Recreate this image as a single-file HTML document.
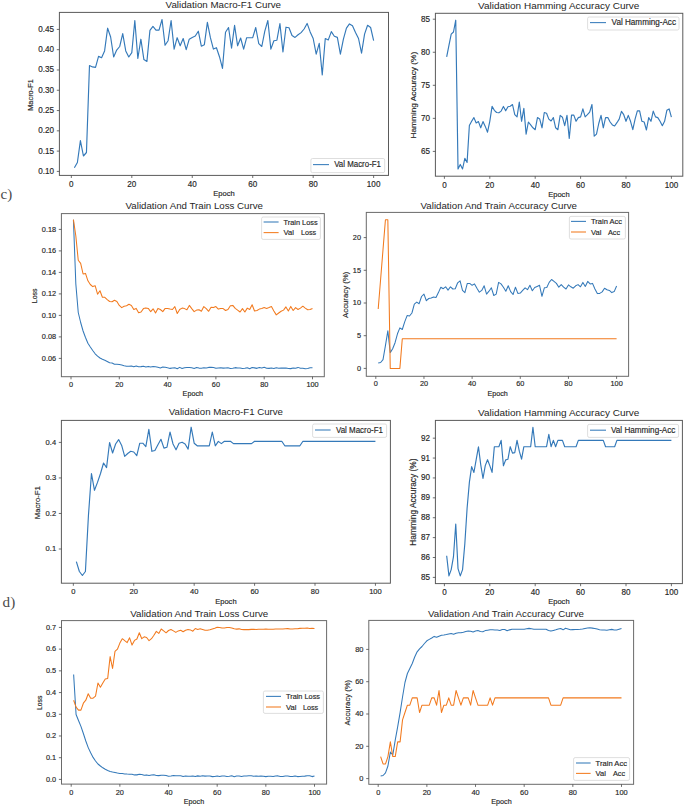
<!DOCTYPE html>
<html><head><meta charset="utf-8"><style>
html,body{margin:0;padding:0;background:#fff;}
svg{display:block;}
text{font-family:"Liberation Sans", sans-serif;}
text.tk{stroke:#262626; stroke-width:0.16px; paint-order:stroke;}
</style></head><body>
<svg width="685" height="807" viewBox="0 0 685 807">
<rect x="0" y="0" width="685" height="807" fill="#ffffff"/>
<polyline points="74.36,167.70 77.39,162.50 80.41,140.60 83.43,156.00 86.45,152.50 89.48,65.50 92.50,66.90 95.52,67.40 98.55,56.40 101.57,57.70 104.59,50.90 107.62,28.20 110.64,37.00 113.66,57.00 116.69,50.10 119.71,46.50 122.73,33.60 125.75,50.90 128.78,57.00 131.80,52.60 134.82,20.50 137.85,58.50 140.87,39.20 143.89,59.60 146.92,61.40 149.94,30.40 152.96,26.40 155.98,30.10 159.01,30.10 162.03,19.50 165.05,45.30 168.08,40.70 171.10,20.50 174.12,49.10 177.15,37.70 180.17,45.80 183.19,38.50 186.21,49.60 189.24,39.20 192.26,37.40 195.28,36.00 198.31,31.20 201.33,46.20 204.35,44.70 207.38,22.40 210.40,37.70 213.42,49.10 216.44,47.70 219.47,56.70 222.49,68.40 225.51,32.20 228.54,27.50 231.56,48.20 234.58,25.30 237.61,45.80 240.63,38.00 243.65,49.10 246.67,37.70 249.70,37.70 252.72,37.70 255.74,27.50 258.77,43.60 261.79,46.50 264.81,31.20 267.84,20.50 270.86,49.10 273.88,40.70 276.90,40.20 279.93,23.60 282.95,52.00 285.97,27.20 289.00,27.80 292.02,35.50 295.04,37.40 298.07,34.80 301.09,32.60 304.11,29.00 307.13,23.40 310.16,31.90 313.18,38.50 316.20,54.10 319.23,43.30 322.25,75.00 325.27,38.50 328.29,39.90 331.32,31.60 334.34,36.30 337.36,37.40 340.39,54.10 343.41,39.20 346.43,28.20 349.46,23.90 352.48,25.80 355.50,32.60 358.52,38.50 361.55,53.10 364.57,34.10 367.59,25.30 370.62,27.50 373.64,40.70" fill="none" stroke="#3479b9" stroke-width="1.15" stroke-linejoin="round" stroke-linecap="butt"/>
<rect x="59.40" y="12.40" width="329.10" height="163.00" fill="none" stroke="#5a5a5a" stroke-width="1.00"/>
<line x1="71.34" y1="175.40" x2="71.34" y2="178.00" stroke="#4a4a4a" stroke-width="0.80"/>
<text class="tk" x="71.34" y="186.60" font-size="8.38" text-anchor="middle" textLength="4.52" lengthAdjust="spacingAndGlyphs" fill="#262626" xml:space="preserve" style='font-family:"Liberation Sans", sans-serif;'>0</text>
<line x1="131.80" y1="175.40" x2="131.80" y2="178.00" stroke="#4a4a4a" stroke-width="0.80"/>
<text class="tk" x="131.80" y="186.60" font-size="8.38" text-anchor="middle" textLength="9.03" lengthAdjust="spacingAndGlyphs" fill="#262626" xml:space="preserve" style='font-family:"Liberation Sans", sans-serif;'>20</text>
<line x1="192.26" y1="175.40" x2="192.26" y2="178.00" stroke="#4a4a4a" stroke-width="0.80"/>
<text class="tk" x="192.26" y="186.60" font-size="8.38" text-anchor="middle" textLength="9.03" lengthAdjust="spacingAndGlyphs" fill="#262626" xml:space="preserve" style='font-family:"Liberation Sans", sans-serif;'>40</text>
<line x1="252.72" y1="175.40" x2="252.72" y2="178.00" stroke="#4a4a4a" stroke-width="0.80"/>
<text class="tk" x="252.72" y="186.60" font-size="8.38" text-anchor="middle" textLength="9.03" lengthAdjust="spacingAndGlyphs" fill="#262626" xml:space="preserve" style='font-family:"Liberation Sans", sans-serif;'>60</text>
<line x1="313.18" y1="175.40" x2="313.18" y2="178.00" stroke="#4a4a4a" stroke-width="0.80"/>
<text class="tk" x="313.18" y="186.60" font-size="8.38" text-anchor="middle" textLength="9.03" lengthAdjust="spacingAndGlyphs" fill="#262626" xml:space="preserve" style='font-family:"Liberation Sans", sans-serif;'>80</text>
<line x1="373.64" y1="175.40" x2="373.64" y2="178.00" stroke="#4a4a4a" stroke-width="0.80"/>
<text class="tk" x="373.64" y="186.60" font-size="8.38" text-anchor="middle" textLength="13.55" lengthAdjust="spacingAndGlyphs" fill="#262626" xml:space="preserve" style='font-family:"Liberation Sans", sans-serif;'>100</text>
<line x1="56.80" y1="171.40" x2="59.40" y2="171.40" stroke="#4a4a4a" stroke-width="0.80"/>
<text class="tk" x="54.10" y="173.89" font-size="8.38" text-anchor="end" textLength="15.81" lengthAdjust="spacingAndGlyphs" fill="#262626" xml:space="preserve" style='font-family:"Liberation Sans", sans-serif;'>0.10</text>
<line x1="56.80" y1="151.12" x2="59.40" y2="151.12" stroke="#4a4a4a" stroke-width="0.80"/>
<text class="tk" x="54.10" y="153.60" font-size="8.38" text-anchor="end" textLength="15.81" lengthAdjust="spacingAndGlyphs" fill="#262626" xml:space="preserve" style='font-family:"Liberation Sans", sans-serif;'>0.15</text>
<line x1="56.80" y1="130.83" x2="59.40" y2="130.83" stroke="#4a4a4a" stroke-width="0.80"/>
<text class="tk" x="54.10" y="133.32" font-size="8.38" text-anchor="end" textLength="15.81" lengthAdjust="spacingAndGlyphs" fill="#262626" xml:space="preserve" style='font-family:"Liberation Sans", sans-serif;'>0.20</text>
<line x1="56.80" y1="110.55" x2="59.40" y2="110.55" stroke="#4a4a4a" stroke-width="0.80"/>
<text class="tk" x="54.10" y="113.03" font-size="8.38" text-anchor="end" textLength="15.81" lengthAdjust="spacingAndGlyphs" fill="#262626" xml:space="preserve" style='font-family:"Liberation Sans", sans-serif;'>0.25</text>
<line x1="56.80" y1="90.26" x2="59.40" y2="90.26" stroke="#4a4a4a" stroke-width="0.80"/>
<text class="tk" x="54.10" y="92.75" font-size="8.38" text-anchor="end" textLength="15.81" lengthAdjust="spacingAndGlyphs" fill="#262626" xml:space="preserve" style='font-family:"Liberation Sans", sans-serif;'>0.30</text>
<line x1="56.80" y1="69.98" x2="59.40" y2="69.98" stroke="#4a4a4a" stroke-width="0.80"/>
<text class="tk" x="54.10" y="72.46" font-size="8.38" text-anchor="end" textLength="15.81" lengthAdjust="spacingAndGlyphs" fill="#262626" xml:space="preserve" style='font-family:"Liberation Sans", sans-serif;'>0.35</text>
<line x1="56.80" y1="49.69" x2="59.40" y2="49.69" stroke="#4a4a4a" stroke-width="0.80"/>
<text class="tk" x="54.10" y="52.18" font-size="8.38" text-anchor="end" textLength="15.81" lengthAdjust="spacingAndGlyphs" fill="#262626" xml:space="preserve" style='font-family:"Liberation Sans", sans-serif;'>0.40</text>
<line x1="56.80" y1="29.41" x2="59.40" y2="29.41" stroke="#4a4a4a" stroke-width="0.80"/>
<text class="tk" x="54.10" y="31.89" font-size="8.38" text-anchor="end" textLength="15.81" lengthAdjust="spacingAndGlyphs" fill="#262626" xml:space="preserve" style='font-family:"Liberation Sans", sans-serif;'>0.45</text>
<text class="tk" x="224.00" y="195.80" font-size="7.70" text-anchor="middle" textLength="21.43" lengthAdjust="spacingAndGlyphs" fill="#262626" xml:space="preserve" style='font-family:"Liberation Sans", sans-serif;'>Epoch</text>
<text class="tk" transform="translate(33.30 95.00) rotate(-90)" x="0" y="0" font-size="7.54" text-anchor="middle" textLength="31.63" lengthAdjust="spacingAndGlyphs" fill="#262626" xml:space="preserve">Macro-F1</text>
<text x="165.60" y="8.00" font-size="9.13" text-anchor="start" textLength="115.40" lengthAdjust="spacingAndGlyphs" fill="#262626" xml:space="preserve" style='font-family:"Liberation Sans", sans-serif;'>Validation Macro-F1 Curve</text>
<rect x="310.90" y="158.50" width="73.80" height="14.10" rx="1.6" fill="#ffffff" fill-opacity="0.85" stroke="#d6d6d6" stroke-width="0.8"/>
<line x1="313.00" y1="164.60" x2="329.00" y2="164.60" stroke="#3479b9" stroke-width="1.1" stroke-opacity="0.95"/>
<text class="tk" x="334.20" y="167.25" font-size="8.30" text-anchor="start" textLength="46.80" lengthAdjust="spacingAndGlyphs" fill="#262626" xml:space="preserve" style='font-family:"Liberation Sans", sans-serif;'>Val Macro-F1</text>
<polyline points="446.67,56.90 448.94,45.30 451.21,34.20 453.48,32.00 455.75,20.20 458.02,169.00 460.29,164.40 462.56,169.00 464.83,158.40 467.10,162.40 469.37,125.50 471.64,121.30 473.91,117.60 476.18,123.00 478.45,121.60 480.72,127.80 482.99,121.60 485.26,126.40 487.53,132.20 489.80,121.30 492.07,106.40 494.34,110.30 496.61,112.50 498.88,112.80 501.15,111.10 503.42,106.40 505.69,110.80 507.96,106.70 510.23,106.20 512.50,104.50 514.77,114.70 517.04,116.90 519.31,102.00 521.58,121.30 523.85,108.40 526.12,134.10 528.39,122.00 530.66,124.90 532.93,127.80 535.20,129.70 537.47,117.60 539.74,119.10 542.01,127.80 544.28,112.50 546.55,113.20 548.82,119.10 551.09,121.00 553.36,117.60 555.63,127.80 557.90,129.70 560.17,115.40 562.44,117.20 564.71,125.70 566.98,115.40 569.25,138.50 571.52,115.10 573.79,115.10 576.06,121.30 578.33,117.60 580.60,116.90 582.87,108.90 585.14,116.90 587.41,114.70 589.68,112.20 591.95,104.50 594.22,136.20 596.49,134.10 598.76,123.50 601.03,115.40 603.30,127.80 605.57,117.60 607.84,117.60 610.11,122.00 612.38,124.90 614.65,126.00 616.92,122.70 619.19,119.10 621.46,111.40 623.73,114.70 626.00,121.30 628.27,115.40 630.54,121.30 632.81,129.70 635.08,119.10 637.35,110.80 639.62,110.80 641.89,121.30 644.16,122.00 646.43,130.00 648.70,117.60 650.97,121.30 653.24,111.10 655.51,116.90 657.78,117.60 660.05,121.30 662.32,125.70 664.59,121.30 666.86,110.30 669.13,108.90 671.40,117.20" fill="none" stroke="#3479b9" stroke-width="1.15" stroke-linejoin="round" stroke-linecap="butt"/>
<rect x="435.40" y="13.30" width="247.40" height="162.90" fill="none" stroke="#5a5a5a" stroke-width="1.00"/>
<line x1="444.40" y1="176.20" x2="444.40" y2="178.80" stroke="#4a4a4a" stroke-width="0.80"/>
<text class="tk" x="444.40" y="187.60" font-size="8.38" text-anchor="middle" textLength="4.52" lengthAdjust="spacingAndGlyphs" fill="#262626" xml:space="preserve" style='font-family:"Liberation Sans", sans-serif;'>0</text>
<line x1="489.80" y1="176.20" x2="489.80" y2="178.80" stroke="#4a4a4a" stroke-width="0.80"/>
<text class="tk" x="489.80" y="187.60" font-size="8.38" text-anchor="middle" textLength="9.03" lengthAdjust="spacingAndGlyphs" fill="#262626" xml:space="preserve" style='font-family:"Liberation Sans", sans-serif;'>20</text>
<line x1="535.20" y1="176.20" x2="535.20" y2="178.80" stroke="#4a4a4a" stroke-width="0.80"/>
<text class="tk" x="535.20" y="187.60" font-size="8.38" text-anchor="middle" textLength="9.03" lengthAdjust="spacingAndGlyphs" fill="#262626" xml:space="preserve" style='font-family:"Liberation Sans", sans-serif;'>40</text>
<line x1="580.60" y1="176.20" x2="580.60" y2="178.80" stroke="#4a4a4a" stroke-width="0.80"/>
<text class="tk" x="580.60" y="187.60" font-size="8.38" text-anchor="middle" textLength="9.03" lengthAdjust="spacingAndGlyphs" fill="#262626" xml:space="preserve" style='font-family:"Liberation Sans", sans-serif;'>60</text>
<line x1="626.00" y1="176.20" x2="626.00" y2="178.80" stroke="#4a4a4a" stroke-width="0.80"/>
<text class="tk" x="626.00" y="187.60" font-size="8.38" text-anchor="middle" textLength="9.03" lengthAdjust="spacingAndGlyphs" fill="#262626" xml:space="preserve" style='font-family:"Liberation Sans", sans-serif;'>80</text>
<line x1="671.40" y1="176.20" x2="671.40" y2="178.80" stroke="#4a4a4a" stroke-width="0.80"/>
<text class="tk" x="671.40" y="187.60" font-size="8.38" text-anchor="middle" textLength="13.55" lengthAdjust="spacingAndGlyphs" fill="#262626" xml:space="preserve" style='font-family:"Liberation Sans", sans-serif;'>100</text>
<line x1="432.80" y1="151.40" x2="435.40" y2="151.40" stroke="#4a4a4a" stroke-width="0.80"/>
<text class="tk" x="430.10" y="153.89" font-size="8.38" text-anchor="end" textLength="9.03" lengthAdjust="spacingAndGlyphs" fill="#262626" xml:space="preserve" style='font-family:"Liberation Sans", sans-serif;'>65</text>
<line x1="432.80" y1="118.35" x2="435.40" y2="118.35" stroke="#4a4a4a" stroke-width="0.80"/>
<text class="tk" x="430.10" y="120.84" font-size="8.38" text-anchor="end" textLength="9.03" lengthAdjust="spacingAndGlyphs" fill="#262626" xml:space="preserve" style='font-family:"Liberation Sans", sans-serif;'>70</text>
<line x1="432.80" y1="85.30" x2="435.40" y2="85.30" stroke="#4a4a4a" stroke-width="0.80"/>
<text class="tk" x="430.10" y="87.79" font-size="8.38" text-anchor="end" textLength="9.03" lengthAdjust="spacingAndGlyphs" fill="#262626" xml:space="preserve" style='font-family:"Liberation Sans", sans-serif;'>75</text>
<line x1="432.80" y1="52.25" x2="435.40" y2="52.25" stroke="#4a4a4a" stroke-width="0.80"/>
<text class="tk" x="430.10" y="54.74" font-size="8.38" text-anchor="end" textLength="9.03" lengthAdjust="spacingAndGlyphs" fill="#262626" xml:space="preserve" style='font-family:"Liberation Sans", sans-serif;'>80</text>
<line x1="432.80" y1="19.20" x2="435.40" y2="19.20" stroke="#4a4a4a" stroke-width="0.80"/>
<text class="tk" x="430.10" y="21.69" font-size="8.38" text-anchor="end" textLength="9.03" lengthAdjust="spacingAndGlyphs" fill="#262626" xml:space="preserve" style='font-family:"Liberation Sans", sans-serif;'>85</text>
<text class="tk" x="558.90" y="197.00" font-size="7.70" text-anchor="middle" textLength="21.43" lengthAdjust="spacingAndGlyphs" fill="#262626" xml:space="preserve" style='font-family:"Liberation Sans", sans-serif;'>Epoch</text>
<text class="tk" transform="translate(415.80 95.20) rotate(-90)" x="0" y="0" font-size="8.09" text-anchor="middle" textLength="86.67" lengthAdjust="spacingAndGlyphs" fill="#262626" xml:space="preserve">Hamming Accuracy (%)</text>
<text x="478.00" y="9.00" font-size="9.19" text-anchor="start" textLength="161.40" lengthAdjust="spacingAndGlyphs" fill="#262626" xml:space="preserve" style='font-family:"Liberation Sans", sans-serif;'>Validation Hamming Accuracy Curve</text>
<rect x="587.60" y="17.00" width="91.40" height="13.00" rx="1.6" fill="#ffffff" fill-opacity="0.85" stroke="#d6d6d6" stroke-width="0.8"/>
<line x1="590.00" y1="22.60" x2="606.00" y2="22.60" stroke="#3479b9" stroke-width="1.1" stroke-opacity="0.95"/>
<text class="tk" x="611.60" y="25.28" font-size="8.37" text-anchor="start" textLength="64.40" lengthAdjust="spacingAndGlyphs" fill="#262626" xml:space="preserve" style='font-family:"Liberation Sans", sans-serif;'>Val Hamming-Acc</text>
<polyline points="73.42,219.70 75.83,284.00 78.25,312.50 80.66,322.50 83.08,331.00 85.49,337.50 87.91,343.30 90.32,347.00 92.73,350.50 95.15,353.80 97.56,356.20 99.98,358.00 102.39,359.30 104.81,360.30 107.22,361.50 109.64,362.80 112.06,363.00 114.47,364.20 116.88,364.30 119.30,364.50 121.72,365.00 124.13,365.70 126.55,366.20 128.96,366.15 131.38,365.99 133.79,366.77 136.20,366.04 138.62,366.77 141.03,366.61 143.45,366.26 145.87,366.97 148.28,366.39 150.69,367.03 153.11,366.60 155.53,366.71 157.94,367.25 160.36,367.90 162.77,366.99 165.19,367.21 167.60,367.86 170.01,368.39 172.43,367.95 174.84,367.78 177.26,368.67 179.68,367.37 182.09,368.50 184.50,367.71 186.92,367.50 189.34,367.46 191.75,367.73 194.17,368.44 196.58,367.55 199.00,368.11 201.41,368.19 203.82,367.82 206.24,368.07 208.66,367.39 211.07,367.38 213.49,367.59 215.90,368.25 218.31,367.90 220.73,367.74 223.15,368.12 225.56,367.93 227.97,367.72 230.39,368.41 232.81,368.28 235.22,367.64 237.63,368.10 240.05,368.04 242.47,368.53 244.88,368.32 247.30,367.70 249.71,368.67 252.12,367.47 254.54,367.89 256.96,368.36 259.37,367.51 261.78,367.98 264.20,367.35 266.62,368.24 269.03,368.37 271.44,368.10 273.86,368.53 276.27,367.74 278.69,368.27 281.11,368.13 283.52,368.11 285.94,367.94 288.35,368.48 290.76,368.62 293.18,367.96 295.60,368.23 298.01,367.38 300.43,368.28 302.84,368.21 305.25,368.69 307.67,368.45 310.09,367.70 312.50,367.84" fill="none" stroke="#3479b9" stroke-width="1.05" stroke-linejoin="round" stroke-linecap="butt"/>
<polyline points="73.42,219.70 75.83,236.00 78.25,260.30 80.66,263.40 83.08,274.00 85.49,273.40 87.91,280.80 90.32,284.50 92.73,286.60 95.15,285.70 97.56,294.20 99.98,290.80 102.39,297.30 104.81,297.30 107.22,299.60 109.64,301.50 112.06,301.80 114.47,300.30 116.88,301.40 119.30,305.40 121.72,307.60 124.13,306.20 126.55,305.70 128.96,304.30 131.38,305.40 133.79,309.50 136.20,308.40 138.62,312.70 141.03,312.00 143.45,308.60 145.87,307.90 148.28,308.40 150.69,311.70 153.11,308.80 155.53,313.00 157.94,308.40 160.36,309.50 162.77,311.60 165.19,308.40 167.60,308.40 170.01,309.10 172.43,309.50 174.84,306.60 177.26,313.50 179.68,309.50 182.09,308.10 184.50,308.60 186.92,309.80 189.34,305.40 191.75,308.60 194.17,311.60 196.58,310.10 199.00,309.80 201.41,311.30 203.82,306.60 206.24,308.60 208.66,311.30 211.07,307.20 213.49,307.60 215.90,306.60 218.31,309.10 220.73,308.40 223.15,308.60 225.56,310.50 227.97,309.50 230.39,305.70 232.81,305.40 235.22,308.40 237.63,310.10 240.05,312.00 242.47,308.60 244.88,312.00 247.30,308.10 249.71,309.50 252.12,304.70 254.54,311.00 256.96,310.50 259.37,309.10 261.78,308.60 264.20,307.60 266.62,308.40 269.03,307.60 271.44,306.60 273.86,311.00 276.27,314.90 278.69,313.00 281.11,311.30 283.52,310.10 285.94,306.90 288.35,311.00 290.76,306.40 293.18,310.50 295.60,307.60 298.01,309.50 300.43,308.10 302.84,306.20 305.25,308.10 307.67,309.80 310.09,309.50 312.50,308.40" fill="none" stroke="#f27a1e" stroke-width="1.05" stroke-linejoin="round" stroke-linecap="butt"/>
<rect x="61.40" y="213.60" width="262.90" height="163.10" fill="none" stroke="#6a6a6a" stroke-width="1.00"/>
<line x1="71.00" y1="376.70" x2="71.00" y2="379.30" stroke="#4a4a4a" stroke-width="0.80"/>
<text class="tk" x="71.00" y="386.70" font-size="7.55" text-anchor="middle" textLength="4.07" lengthAdjust="spacingAndGlyphs" fill="#262626" xml:space="preserve" style='font-family:"Liberation Sans", sans-serif;'>0</text>
<line x1="119.30" y1="376.70" x2="119.30" y2="379.30" stroke="#4a4a4a" stroke-width="0.80"/>
<text class="tk" x="119.30" y="386.70" font-size="7.55" text-anchor="middle" textLength="8.14" lengthAdjust="spacingAndGlyphs" fill="#262626" xml:space="preserve" style='font-family:"Liberation Sans", sans-serif;'>20</text>
<line x1="167.60" y1="376.70" x2="167.60" y2="379.30" stroke="#4a4a4a" stroke-width="0.80"/>
<text class="tk" x="167.60" y="386.70" font-size="7.55" text-anchor="middle" textLength="8.14" lengthAdjust="spacingAndGlyphs" fill="#262626" xml:space="preserve" style='font-family:"Liberation Sans", sans-serif;'>40</text>
<line x1="215.90" y1="376.70" x2="215.90" y2="379.30" stroke="#4a4a4a" stroke-width="0.80"/>
<text class="tk" x="215.90" y="386.70" font-size="7.55" text-anchor="middle" textLength="8.14" lengthAdjust="spacingAndGlyphs" fill="#262626" xml:space="preserve" style='font-family:"Liberation Sans", sans-serif;'>60</text>
<line x1="264.20" y1="376.70" x2="264.20" y2="379.30" stroke="#4a4a4a" stroke-width="0.80"/>
<text class="tk" x="264.20" y="386.70" font-size="7.55" text-anchor="middle" textLength="8.14" lengthAdjust="spacingAndGlyphs" fill="#262626" xml:space="preserve" style='font-family:"Liberation Sans", sans-serif;'>80</text>
<line x1="312.50" y1="376.70" x2="312.50" y2="379.30" stroke="#4a4a4a" stroke-width="0.80"/>
<text class="tk" x="312.50" y="386.70" font-size="7.55" text-anchor="middle" textLength="12.22" lengthAdjust="spacingAndGlyphs" fill="#262626" xml:space="preserve" style='font-family:"Liberation Sans", sans-serif;'>100</text>
<line x1="58.80" y1="358.40" x2="61.40" y2="358.40" stroke="#4a4a4a" stroke-width="0.80"/>
<text class="tk" x="56.10" y="360.63" font-size="7.55" text-anchor="end" textLength="14.25" lengthAdjust="spacingAndGlyphs" fill="#262626" xml:space="preserve" style='font-family:"Liberation Sans", sans-serif;'>0.06</text>
<line x1="58.80" y1="336.90" x2="61.40" y2="336.90" stroke="#4a4a4a" stroke-width="0.80"/>
<text class="tk" x="56.10" y="339.13" font-size="7.55" text-anchor="end" textLength="14.25" lengthAdjust="spacingAndGlyphs" fill="#262626" xml:space="preserve" style='font-family:"Liberation Sans", sans-serif;'>0.08</text>
<line x1="58.80" y1="315.40" x2="61.40" y2="315.40" stroke="#4a4a4a" stroke-width="0.80"/>
<text class="tk" x="56.10" y="317.63" font-size="7.55" text-anchor="end" textLength="14.25" lengthAdjust="spacingAndGlyphs" fill="#262626" xml:space="preserve" style='font-family:"Liberation Sans", sans-serif;'>0.10</text>
<line x1="58.80" y1="293.90" x2="61.40" y2="293.90" stroke="#4a4a4a" stroke-width="0.80"/>
<text class="tk" x="56.10" y="296.13" font-size="7.55" text-anchor="end" textLength="14.25" lengthAdjust="spacingAndGlyphs" fill="#262626" xml:space="preserve" style='font-family:"Liberation Sans", sans-serif;'>0.12</text>
<line x1="58.80" y1="272.40" x2="61.40" y2="272.40" stroke="#4a4a4a" stroke-width="0.80"/>
<text class="tk" x="56.10" y="274.63" font-size="7.55" text-anchor="end" textLength="14.25" lengthAdjust="spacingAndGlyphs" fill="#262626" xml:space="preserve" style='font-family:"Liberation Sans", sans-serif;'>0.14</text>
<line x1="58.80" y1="250.90" x2="61.40" y2="250.90" stroke="#4a4a4a" stroke-width="0.80"/>
<text class="tk" x="56.10" y="253.13" font-size="7.55" text-anchor="end" textLength="14.25" lengthAdjust="spacingAndGlyphs" fill="#262626" xml:space="preserve" style='font-family:"Liberation Sans", sans-serif;'>0.16</text>
<line x1="58.80" y1="229.40" x2="61.40" y2="229.40" stroke="#4a4a4a" stroke-width="0.80"/>
<text class="tk" x="56.10" y="231.63" font-size="7.55" text-anchor="end" textLength="14.25" lengthAdjust="spacingAndGlyphs" fill="#262626" xml:space="preserve" style='font-family:"Liberation Sans", sans-serif;'>0.18</text>
<text class="tk" x="192.80" y="396.40" font-size="7.33" text-anchor="middle" textLength="20.39" lengthAdjust="spacingAndGlyphs" fill="#262626" xml:space="preserve" style='font-family:"Liberation Sans", sans-serif;'>Epoch</text>
<text class="tk" transform="translate(36.70 295.90) rotate(-90)" x="0" y="0" font-size="7.33" text-anchor="middle" textLength="14.61" lengthAdjust="spacingAndGlyphs" fill="#262626" xml:space="preserve">Loss</text>
<text x="125.60" y="209.00" font-size="9.10" text-anchor="start" textLength="137.40" lengthAdjust="spacingAndGlyphs" fill="#262626" xml:space="preserve" style='font-family:"Liberation Sans", sans-serif;'>Validation And Train Loss Curve</text>
<rect x="261.60" y="217.00" width="58.80" height="22.40" rx="1.6" fill="#ffffff" fill-opacity="0.85" stroke="#d6d6d6" stroke-width="0.8"/>
<line x1="263.60" y1="222.00" x2="278.60" y2="222.00" stroke="#3479b9" stroke-width="1.1" stroke-opacity="0.95"/>
<text class="tk" x="283.60" y="224.52" font-size="7.89" text-anchor="start" textLength="34.00" lengthAdjust="spacingAndGlyphs" fill="#262626" xml:space="preserve" style='font-family:"Liberation Sans", sans-serif;'>Train Loss</text>
<line x1="263.60" y1="232.60" x2="278.60" y2="232.60" stroke="#f27a1e" stroke-width="1.1" stroke-opacity="0.95"/>
<text class="tk" x="283.60" y="235.12" font-size="7.89" text-anchor="start" textLength="10.36" lengthAdjust="spacingAndGlyphs" fill="#262626" xml:space="preserve" style='font-family:"Liberation Sans", sans-serif;'>Val</text>
<text class="tk" x="301.00" y="235.12" font-size="7.89" text-anchor="start" textLength="15.18" lengthAdjust="spacingAndGlyphs" fill="#262626" xml:space="preserve" style='font-family:"Liberation Sans", sans-serif;'>Loss</text>
<polyline points="378.21,363.10 380.62,362.50 383.02,359.60 385.43,345.70 387.84,330.80 390.25,352.60 392.66,348.70 395.06,342.70 397.47,333.80 399.88,327.90 402.29,329.50 404.70,321.90 407.10,315.60 409.51,316.00 411.92,313.00 414.33,304.10 416.74,302.10 419.14,303.70 421.55,296.50 423.96,294.10 426.37,300.70 428.78,298.50 431.18,298.00 433.59,297.00 436.00,297.40 438.41,292.60 440.82,287.20 443.22,288.70 445.63,286.80 448.04,290.10 450.45,286.80 452.86,289.00 455.26,288.70 457.67,282.80 460.08,280.90 462.49,290.40 464.90,292.60 467.30,283.40 469.71,283.40 472.12,285.30 474.53,283.90 476.94,288.20 479.34,292.20 481.75,290.40 484.16,285.80 486.57,294.10 488.98,291.20 491.38,287.80 493.79,295.50 496.20,294.10 498.61,282.40 501.02,283.90 503.42,287.20 505.83,291.20 508.24,285.80 510.65,291.60 513.06,294.50 515.46,287.20 517.87,293.40 520.28,293.10 522.69,290.40 525.10,287.80 527.50,289.70 529.91,285.30 532.32,290.70 534.73,287.50 537.14,286.40 539.54,285.30 541.95,296.30 544.36,287.80 546.77,287.50 549.18,282.40 551.58,279.50 553.99,281.40 556.40,283.40 558.81,287.20 561.22,284.60 563.62,287.20 566.03,289.00 568.44,284.90 570.85,286.80 573.26,288.20 575.66,285.80 578.07,284.60 580.48,286.80 582.89,282.40 585.30,286.40 587.70,281.40 590.11,283.90 592.52,283.40 594.93,289.00 597.34,293.60 599.74,293.40 602.15,291.90 604.56,288.20 606.97,289.70 609.38,290.40 611.78,292.60 614.19,291.60 616.60,286.00" fill="none" stroke="#3479b9" stroke-width="1.05" stroke-linejoin="round" stroke-linecap="butt"/>
<polyline points="378.21,308.95 380.62,279.19 383.02,249.50 385.43,219.75 387.84,219.75 390.25,368.40 392.66,368.40 395.06,368.40 397.47,368.40 399.88,368.40 402.29,338.68 404.70,338.68 407.10,338.68 409.51,338.68 411.92,338.68 414.33,338.68 416.74,338.68 419.14,338.68 421.55,338.68 423.96,338.68 426.37,338.68 428.78,338.68 431.18,338.68 433.59,338.68 436.00,338.68 438.41,338.68 440.82,338.68 443.22,338.68 445.63,338.68 448.04,338.68 450.45,338.68 452.86,338.68 455.26,338.68 457.67,338.68 460.08,338.68 462.49,338.68 464.90,338.68 467.30,338.68 469.71,338.68 472.12,338.68 474.53,338.68 476.94,338.68 479.34,338.68 481.75,338.68 484.16,338.68 486.57,338.68 488.98,338.68 491.38,338.68 493.79,338.68 496.20,338.68 498.61,338.68 501.02,338.68 503.42,338.68 505.83,338.68 508.24,338.68 510.65,338.68 513.06,338.68 515.46,338.68 517.87,338.68 520.28,338.68 522.69,338.68 525.10,338.68 527.50,338.68 529.91,338.68 532.32,338.68 534.73,338.68 537.14,338.68 539.54,338.68 541.95,338.68 544.36,338.68 546.77,338.68 549.18,338.68 551.58,338.68 553.99,338.68 556.40,338.68 558.81,338.68 561.22,338.68 563.62,338.68 566.03,338.68 568.44,338.68 570.85,338.68 573.26,338.68 575.66,338.68 578.07,338.68 580.48,338.68 582.89,338.68 585.30,338.68 587.70,338.68 590.11,338.68 592.52,338.68 594.93,338.68 597.34,338.68 599.74,338.68 602.15,338.68 604.56,338.68 606.97,338.68 609.38,338.68 611.78,338.68 614.19,338.68 616.60,338.68" fill="none" stroke="#f27a1e" stroke-width="1.05" stroke-linejoin="round" stroke-linecap="butt"/>
<rect x="366.30" y="212.40" width="262.30" height="163.90" fill="none" stroke="#6a6a6a" stroke-width="1.00"/>
<line x1="375.80" y1="376.30" x2="375.80" y2="378.90" stroke="#4a4a4a" stroke-width="0.80"/>
<text class="tk" x="375.80" y="385.90" font-size="7.55" text-anchor="middle" textLength="4.07" lengthAdjust="spacingAndGlyphs" fill="#262626" xml:space="preserve" style='font-family:"Liberation Sans", sans-serif;'>0</text>
<line x1="423.96" y1="376.30" x2="423.96" y2="378.90" stroke="#4a4a4a" stroke-width="0.80"/>
<text class="tk" x="423.96" y="385.90" font-size="7.55" text-anchor="middle" textLength="8.14" lengthAdjust="spacingAndGlyphs" fill="#262626" xml:space="preserve" style='font-family:"Liberation Sans", sans-serif;'>20</text>
<line x1="472.12" y1="376.30" x2="472.12" y2="378.90" stroke="#4a4a4a" stroke-width="0.80"/>
<text class="tk" x="472.12" y="385.90" font-size="7.55" text-anchor="middle" textLength="8.14" lengthAdjust="spacingAndGlyphs" fill="#262626" xml:space="preserve" style='font-family:"Liberation Sans", sans-serif;'>40</text>
<line x1="520.28" y1="376.30" x2="520.28" y2="378.90" stroke="#4a4a4a" stroke-width="0.80"/>
<text class="tk" x="520.28" y="385.90" font-size="7.55" text-anchor="middle" textLength="8.14" lengthAdjust="spacingAndGlyphs" fill="#262626" xml:space="preserve" style='font-family:"Liberation Sans", sans-serif;'>60</text>
<line x1="568.44" y1="376.30" x2="568.44" y2="378.90" stroke="#4a4a4a" stroke-width="0.80"/>
<text class="tk" x="568.44" y="385.90" font-size="7.55" text-anchor="middle" textLength="8.14" lengthAdjust="spacingAndGlyphs" fill="#262626" xml:space="preserve" style='font-family:"Liberation Sans", sans-serif;'>80</text>
<line x1="616.60" y1="376.30" x2="616.60" y2="378.90" stroke="#4a4a4a" stroke-width="0.80"/>
<text class="tk" x="616.60" y="385.90" font-size="7.55" text-anchor="middle" textLength="12.22" lengthAdjust="spacingAndGlyphs" fill="#262626" xml:space="preserve" style='font-family:"Liberation Sans", sans-serif;'>100</text>
<line x1="363.70" y1="368.40" x2="366.30" y2="368.40" stroke="#4a4a4a" stroke-width="0.80"/>
<text class="tk" x="361.00" y="370.63" font-size="7.55" text-anchor="end" textLength="4.07" lengthAdjust="spacingAndGlyphs" fill="#262626" xml:space="preserve" style='font-family:"Liberation Sans", sans-serif;'>0</text>
<line x1="363.70" y1="335.70" x2="366.30" y2="335.70" stroke="#4a4a4a" stroke-width="0.80"/>
<text class="tk" x="361.00" y="337.93" font-size="7.55" text-anchor="end" textLength="4.07" lengthAdjust="spacingAndGlyphs" fill="#262626" xml:space="preserve" style='font-family:"Liberation Sans", sans-serif;'>5</text>
<line x1="363.70" y1="303.00" x2="366.30" y2="303.00" stroke="#4a4a4a" stroke-width="0.80"/>
<text class="tk" x="361.00" y="305.23" font-size="7.55" text-anchor="end" textLength="8.14" lengthAdjust="spacingAndGlyphs" fill="#262626" xml:space="preserve" style='font-family:"Liberation Sans", sans-serif;'>10</text>
<line x1="363.70" y1="270.30" x2="366.30" y2="270.30" stroke="#4a4a4a" stroke-width="0.80"/>
<text class="tk" x="361.00" y="272.53" font-size="7.55" text-anchor="end" textLength="8.14" lengthAdjust="spacingAndGlyphs" fill="#262626" xml:space="preserve" style='font-family:"Liberation Sans", sans-serif;'>15</text>
<line x1="363.70" y1="237.60" x2="366.30" y2="237.60" stroke="#4a4a4a" stroke-width="0.80"/>
<text class="tk" x="361.00" y="239.83" font-size="7.55" text-anchor="end" textLength="8.14" lengthAdjust="spacingAndGlyphs" fill="#262626" xml:space="preserve" style='font-family:"Liberation Sans", sans-serif;'>20</text>
<text class="tk" x="497.60" y="395.80" font-size="7.33" text-anchor="middle" textLength="20.39" lengthAdjust="spacingAndGlyphs" fill="#262626" xml:space="preserve" style='font-family:"Liberation Sans", sans-serif;'>Epoch</text>
<text class="tk" transform="translate(347.60 294.80) rotate(-90)" x="0" y="0" font-size="7.70" text-anchor="middle" textLength="46.30" lengthAdjust="spacingAndGlyphs" fill="#262626" xml:space="preserve">Accuracy (%)</text>
<text x="420.60" y="209.00" font-size="9.00" text-anchor="start" textLength="156.40" lengthAdjust="spacingAndGlyphs" fill="#262626" xml:space="preserve" style='font-family:"Liberation Sans", sans-serif;'>Validation And Train Accuracy Curve</text>
<rect x="569.40" y="216.40" width="56.00" height="22.60" rx="1.6" fill="#ffffff" fill-opacity="0.85" stroke="#d6d6d6" stroke-width="0.8"/>
<line x1="571.00" y1="221.40" x2="586.00" y2="221.40" stroke="#3479b9" stroke-width="1.1" stroke-opacity="0.95"/>
<text class="tk" x="591.00" y="223.92" font-size="7.87" text-anchor="start" textLength="31.00" lengthAdjust="spacingAndGlyphs" fill="#262626" xml:space="preserve" style='font-family:"Liberation Sans", sans-serif;'>Train Acc</text>
<line x1="571.00" y1="232.00" x2="586.00" y2="232.00" stroke="#f27a1e" stroke-width="1.1" stroke-opacity="0.95"/>
<text class="tk" x="591.00" y="234.52" font-size="7.87" text-anchor="start" textLength="10.33" lengthAdjust="spacingAndGlyphs" fill="#262626" xml:space="preserve" style='font-family:"Liberation Sans", sans-serif;'>Val</text>
<text class="tk" x="608.00" y="234.52" font-size="7.87" text-anchor="start" textLength="12.19" lengthAdjust="spacingAndGlyphs" fill="#262626" xml:space="preserve" style='font-family:"Liberation Sans", sans-serif;'>Acc</text>
<polyline points="76.35,561.60 79.37,571.50 82.39,575.50 85.41,571.50 88.44,515.50 91.46,473.50 94.48,490.30 97.50,482.40 100.52,473.50 103.54,463.00 106.56,467.60 109.58,442.50 112.60,453.00 115.62,444.00 118.64,439.60 121.67,445.40 124.69,456.40 127.71,453.50 130.73,451.30 133.75,452.00 136.77,455.70 139.79,443.20 142.81,443.20 145.83,446.60 148.85,429.40 151.88,451.30 154.90,450.50 157.92,444.70 160.94,439.30 163.96,448.10 166.98,447.20 170.00,432.00 173.02,444.00 176.04,449.80 179.06,443.20 182.09,442.20 185.11,444.00 188.13,449.10 191.15,427.20 194.17,443.20 197.19,445.80 200.21,445.80 203.23,445.80 206.25,445.80 209.27,445.80 212.30,432.00 215.32,445.80 218.34,441.40 221.36,443.60 224.38,441.30 227.40,441.30 230.42,441.30 233.44,443.60 236.46,443.60 239.49,443.60 242.51,443.60 245.53,443.60 248.55,443.60 251.57,443.60 254.59,441.30 257.61,441.30 260.63,441.30 263.65,441.30 266.67,441.30 269.69,441.30 272.72,441.30 275.74,441.30 278.76,441.30 281.78,441.30 284.80,445.80 287.82,445.80 290.84,445.80 293.86,445.80 296.88,445.80 299.90,445.80 302.93,441.30 305.95,441.30 308.97,441.30 311.99,441.30 315.01,441.30 318.03,441.30 321.05,441.30 324.07,441.30 327.09,441.30 330.11,441.30 333.14,441.30 336.16,441.30 339.18,441.30 342.20,441.30 345.22,441.30 348.24,441.30 351.26,441.30 354.28,441.30 357.30,441.30 360.32,441.30 363.35,441.30 366.37,441.30 369.39,441.30 372.41,441.30 375.43,441.30" fill="none" stroke="#3479b9" stroke-width="1.15" stroke-linejoin="round" stroke-linecap="butt"/>
<rect x="61.40" y="420.40" width="329.00" height="162.80" fill="none" stroke="#5a5a5a" stroke-width="1.00"/>
<line x1="73.33" y1="583.20" x2="73.33" y2="585.80" stroke="#4a4a4a" stroke-width="0.80"/>
<text class="tk" x="73.33" y="594.40" font-size="7.79" text-anchor="middle" textLength="4.20" lengthAdjust="spacingAndGlyphs" fill="#262626" xml:space="preserve" style='font-family:"Liberation Sans", sans-serif;'>0</text>
<line x1="133.75" y1="583.20" x2="133.75" y2="585.80" stroke="#4a4a4a" stroke-width="0.80"/>
<text class="tk" x="133.75" y="594.40" font-size="7.79" text-anchor="middle" textLength="8.40" lengthAdjust="spacingAndGlyphs" fill="#262626" xml:space="preserve" style='font-family:"Liberation Sans", sans-serif;'>20</text>
<line x1="194.17" y1="583.20" x2="194.17" y2="585.80" stroke="#4a4a4a" stroke-width="0.80"/>
<text class="tk" x="194.17" y="594.40" font-size="7.79" text-anchor="middle" textLength="8.40" lengthAdjust="spacingAndGlyphs" fill="#262626" xml:space="preserve" style='font-family:"Liberation Sans", sans-serif;'>40</text>
<line x1="254.59" y1="583.20" x2="254.59" y2="585.80" stroke="#4a4a4a" stroke-width="0.80"/>
<text class="tk" x="254.59" y="594.40" font-size="7.79" text-anchor="middle" textLength="8.40" lengthAdjust="spacingAndGlyphs" fill="#262626" xml:space="preserve" style='font-family:"Liberation Sans", sans-serif;'>60</text>
<line x1="315.01" y1="583.20" x2="315.01" y2="585.80" stroke="#4a4a4a" stroke-width="0.80"/>
<text class="tk" x="315.01" y="594.40" font-size="7.79" text-anchor="middle" textLength="8.40" lengthAdjust="spacingAndGlyphs" fill="#262626" xml:space="preserve" style='font-family:"Liberation Sans", sans-serif;'>80</text>
<line x1="375.43" y1="583.20" x2="375.43" y2="585.80" stroke="#4a4a4a" stroke-width="0.80"/>
<text class="tk" x="375.43" y="594.40" font-size="7.79" text-anchor="middle" textLength="12.60" lengthAdjust="spacingAndGlyphs" fill="#262626" xml:space="preserve" style='font-family:"Liberation Sans", sans-serif;'>100</text>
<line x1="58.80" y1="549.00" x2="61.40" y2="549.00" stroke="#4a4a4a" stroke-width="0.80"/>
<text class="tk" x="56.10" y="551.31" font-size="7.79" text-anchor="end" textLength="10.50" lengthAdjust="spacingAndGlyphs" fill="#262626" xml:space="preserve" style='font-family:"Liberation Sans", sans-serif;'>0.1</text>
<line x1="58.80" y1="513.47" x2="61.40" y2="513.47" stroke="#4a4a4a" stroke-width="0.80"/>
<text class="tk" x="56.10" y="515.78" font-size="7.79" text-anchor="end" textLength="10.50" lengthAdjust="spacingAndGlyphs" fill="#262626" xml:space="preserve" style='font-family:"Liberation Sans", sans-serif;'>0.2</text>
<line x1="58.80" y1="477.94" x2="61.40" y2="477.94" stroke="#4a4a4a" stroke-width="0.80"/>
<text class="tk" x="56.10" y="480.25" font-size="7.79" text-anchor="end" textLength="10.50" lengthAdjust="spacingAndGlyphs" fill="#262626" xml:space="preserve" style='font-family:"Liberation Sans", sans-serif;'>0.3</text>
<line x1="58.80" y1="442.41" x2="61.40" y2="442.41" stroke="#4a4a4a" stroke-width="0.80"/>
<text class="tk" x="56.10" y="444.72" font-size="7.79" text-anchor="end" textLength="10.50" lengthAdjust="spacingAndGlyphs" fill="#262626" xml:space="preserve" style='font-family:"Liberation Sans", sans-serif;'>0.4</text>
<text class="tk" x="225.90" y="604.10" font-size="7.70" text-anchor="middle" textLength="21.43" lengthAdjust="spacingAndGlyphs" fill="#262626" xml:space="preserve" style='font-family:"Liberation Sans", sans-serif;'>Epoch</text>
<text class="tk" transform="translate(40.10 502.70) rotate(-90)" x="0" y="0" font-size="7.92" text-anchor="middle" textLength="33.25" lengthAdjust="spacingAndGlyphs" fill="#262626" xml:space="preserve">Macro-F1</text>
<text x="168.80" y="415.20" font-size="9.04" text-anchor="start" textLength="114.20" lengthAdjust="spacingAndGlyphs" fill="#262626" xml:space="preserve" style='font-family:"Liberation Sans", sans-serif;'>Validation Macro-F1 Curve</text>
<rect x="312.60" y="424.00" width="74.00" height="13.40" rx="1.6" fill="#ffffff" fill-opacity="0.85" stroke="#d6d6d6" stroke-width="0.8"/>
<line x1="315.00" y1="430.00" x2="330.60" y2="430.00" stroke="#3479b9" stroke-width="1.1" stroke-opacity="0.95"/>
<text class="tk" x="336.00" y="432.65" font-size="8.30" text-anchor="start" textLength="47.00" lengthAdjust="spacingAndGlyphs" fill="#262626" xml:space="preserve" style='font-family:"Liberation Sans", sans-serif;'>Val Macro-F1</text>
<polyline points="446.67,555.70 448.94,575.90 451.21,569.60 453.48,556.70 455.75,524.00 458.02,568.60 460.29,575.90 462.56,569.60 464.83,543.80 467.10,508.20 469.37,482.40 471.64,466.60 473.91,472.50 476.18,459.70 478.45,446.80 480.72,464.60 482.99,478.50 485.26,465.60 487.53,459.70 489.80,465.60 492.07,472.40 494.34,446.70 496.61,446.70 498.88,446.70 501.15,440.40 503.42,465.80 505.69,459.90 507.96,459.20 510.23,446.70 512.50,453.10 514.77,452.60 517.04,440.40 519.31,451.20 521.58,459.20 523.85,446.70 526.12,446.70 528.39,446.70 530.66,446.70 532.93,427.30 535.20,446.70 537.47,446.70 539.74,446.70 542.01,446.70 544.28,446.70 546.55,446.70 548.82,434.30 551.09,446.70 553.36,440.40 555.63,446.70 557.90,440.40 560.17,440.40 562.44,440.40 564.71,446.70 566.98,446.70 569.25,446.70 571.52,446.70 573.79,446.70 576.06,446.70 578.33,440.40 580.60,440.40 582.87,440.40 585.14,440.40 587.41,440.40 589.68,440.40 591.95,440.40 594.22,440.40 596.49,440.40 598.76,440.40 601.03,440.40 603.30,440.40 605.57,446.70 607.84,446.70 610.11,446.70 612.38,446.70 614.65,446.70 616.92,440.40 619.19,440.40 621.46,440.40 623.73,440.40 626.00,440.40 628.27,440.40 630.54,440.40 632.81,440.40 635.08,440.40 637.35,440.40 639.62,440.40 641.89,440.40 644.16,440.40 646.43,440.40 648.70,440.40 650.97,440.40 653.24,440.40 655.51,440.40 657.78,440.40 660.05,440.40 662.32,440.40 664.59,440.40 666.86,440.40 669.13,440.40 671.40,440.40" fill="none" stroke="#3479b9" stroke-width="1.15" stroke-linejoin="round" stroke-linecap="butt"/>
<rect x="435.40" y="420.40" width="247.00" height="163.20" fill="none" stroke="#5a5a5a" stroke-width="1.00"/>
<line x1="444.40" y1="583.60" x2="444.40" y2="586.20" stroke="#4a4a4a" stroke-width="0.80"/>
<text class="tk" x="444.40" y="594.70" font-size="8.38" text-anchor="middle" textLength="4.52" lengthAdjust="spacingAndGlyphs" fill="#262626" xml:space="preserve" style='font-family:"Liberation Sans", sans-serif;'>0</text>
<line x1="489.80" y1="583.60" x2="489.80" y2="586.20" stroke="#4a4a4a" stroke-width="0.80"/>
<text class="tk" x="489.80" y="594.70" font-size="8.38" text-anchor="middle" textLength="9.03" lengthAdjust="spacingAndGlyphs" fill="#262626" xml:space="preserve" style='font-family:"Liberation Sans", sans-serif;'>20</text>
<line x1="535.20" y1="583.60" x2="535.20" y2="586.20" stroke="#4a4a4a" stroke-width="0.80"/>
<text class="tk" x="535.20" y="594.70" font-size="8.38" text-anchor="middle" textLength="9.03" lengthAdjust="spacingAndGlyphs" fill="#262626" xml:space="preserve" style='font-family:"Liberation Sans", sans-serif;'>40</text>
<line x1="580.60" y1="583.60" x2="580.60" y2="586.20" stroke="#4a4a4a" stroke-width="0.80"/>
<text class="tk" x="580.60" y="594.70" font-size="8.38" text-anchor="middle" textLength="9.03" lengthAdjust="spacingAndGlyphs" fill="#262626" xml:space="preserve" style='font-family:"Liberation Sans", sans-serif;'>60</text>
<line x1="626.00" y1="583.60" x2="626.00" y2="586.20" stroke="#4a4a4a" stroke-width="0.80"/>
<text class="tk" x="626.00" y="594.70" font-size="8.38" text-anchor="middle" textLength="9.03" lengthAdjust="spacingAndGlyphs" fill="#262626" xml:space="preserve" style='font-family:"Liberation Sans", sans-serif;'>80</text>
<line x1="671.40" y1="583.60" x2="671.40" y2="586.20" stroke="#4a4a4a" stroke-width="0.80"/>
<text class="tk" x="671.40" y="594.70" font-size="8.38" text-anchor="middle" textLength="13.55" lengthAdjust="spacingAndGlyphs" fill="#262626" xml:space="preserve" style='font-family:"Liberation Sans", sans-serif;'>100</text>
<line x1="432.80" y1="577.40" x2="435.40" y2="577.40" stroke="#4a4a4a" stroke-width="0.80"/>
<text class="tk" x="430.10" y="579.89" font-size="8.38" text-anchor="end" textLength="9.03" lengthAdjust="spacingAndGlyphs" fill="#262626" xml:space="preserve" style='font-family:"Liberation Sans", sans-serif;'>85</text>
<line x1="432.80" y1="557.51" x2="435.40" y2="557.51" stroke="#4a4a4a" stroke-width="0.80"/>
<text class="tk" x="430.10" y="560.00" font-size="8.38" text-anchor="end" textLength="9.03" lengthAdjust="spacingAndGlyphs" fill="#262626" xml:space="preserve" style='font-family:"Liberation Sans", sans-serif;'>86</text>
<line x1="432.80" y1="537.62" x2="435.40" y2="537.62" stroke="#4a4a4a" stroke-width="0.80"/>
<text class="tk" x="430.10" y="540.11" font-size="8.38" text-anchor="end" textLength="9.03" lengthAdjust="spacingAndGlyphs" fill="#262626" xml:space="preserve" style='font-family:"Liberation Sans", sans-serif;'>87</text>
<line x1="432.80" y1="517.73" x2="435.40" y2="517.73" stroke="#4a4a4a" stroke-width="0.80"/>
<text class="tk" x="430.10" y="520.22" font-size="8.38" text-anchor="end" textLength="9.03" lengthAdjust="spacingAndGlyphs" fill="#262626" xml:space="preserve" style='font-family:"Liberation Sans", sans-serif;'>88</text>
<line x1="432.80" y1="497.84" x2="435.40" y2="497.84" stroke="#4a4a4a" stroke-width="0.80"/>
<text class="tk" x="430.10" y="500.33" font-size="8.38" text-anchor="end" textLength="9.03" lengthAdjust="spacingAndGlyphs" fill="#262626" xml:space="preserve" style='font-family:"Liberation Sans", sans-serif;'>89</text>
<line x1="432.80" y1="477.95" x2="435.40" y2="477.95" stroke="#4a4a4a" stroke-width="0.80"/>
<text class="tk" x="430.10" y="480.44" font-size="8.38" text-anchor="end" textLength="9.03" lengthAdjust="spacingAndGlyphs" fill="#262626" xml:space="preserve" style='font-family:"Liberation Sans", sans-serif;'>90</text>
<line x1="432.80" y1="458.06" x2="435.40" y2="458.06" stroke="#4a4a4a" stroke-width="0.80"/>
<text class="tk" x="430.10" y="460.55" font-size="8.38" text-anchor="end" textLength="9.03" lengthAdjust="spacingAndGlyphs" fill="#262626" xml:space="preserve" style='font-family:"Liberation Sans", sans-serif;'>91</text>
<line x1="432.80" y1="438.17" x2="435.40" y2="438.17" stroke="#4a4a4a" stroke-width="0.80"/>
<text class="tk" x="430.10" y="440.66" font-size="8.38" text-anchor="end" textLength="9.03" lengthAdjust="spacingAndGlyphs" fill="#262626" xml:space="preserve" style='font-family:"Liberation Sans", sans-serif;'>92</text>
<text class="tk" x="558.90" y="604.10" font-size="7.70" text-anchor="middle" textLength="21.43" lengthAdjust="spacingAndGlyphs" fill="#262626" xml:space="preserve" style='font-family:"Liberation Sans", sans-serif;'>Epoch</text>
<text class="tk" transform="translate(415.80 502.10) rotate(-90)" x="0" y="0" font-size="8.13" text-anchor="middle" textLength="87.14" lengthAdjust="spacingAndGlyphs" fill="#262626" xml:space="preserve">Hamming Accuracy (%)</text>
<text x="478.00" y="415.70" font-size="9.19" text-anchor="start" textLength="161.40" lengthAdjust="spacingAndGlyphs" fill="#262626" xml:space="preserve" style='font-family:"Liberation Sans", sans-serif;'>Validation Hamming Accuracy Curve</text>
<rect x="587.60" y="424.40" width="91.00" height="13.00" rx="1.6" fill="#ffffff" fill-opacity="0.85" stroke="#d6d6d6" stroke-width="0.8"/>
<line x1="590.00" y1="430.20" x2="606.00" y2="430.20" stroke="#3479b9" stroke-width="1.1" stroke-opacity="0.95"/>
<text class="tk" x="611.00" y="432.88" font-size="8.37" text-anchor="start" textLength="64.40" lengthAdjust="spacingAndGlyphs" fill="#262626" xml:space="preserve" style='font-family:"Liberation Sans", sans-serif;'>Val Hamming-Acc</text>
<polyline points="73.63,674.50 76.07,714.50 78.50,720.50 80.93,726.40 83.37,733.50 85.80,741.00 88.23,747.60 90.66,752.80 93.10,757.40 95.53,761.00 97.96,764.00 100.40,766.00 102.83,767.80 105.26,769.30 107.69,770.50 110.13,771.40 112.56,772.00 114.99,772.50 117.43,773.00 119.86,773.40 122.29,773.60 124.73,773.90 127.16,774.10 129.59,774.20 132.03,774.29 134.46,774.89 136.89,774.88 139.32,774.21 141.76,774.49 144.19,775.21 146.62,774.90 149.06,775.45 151.49,775.02 153.92,774.82 156.36,775.41 158.79,775.63 161.22,775.26 163.65,775.19 166.09,775.50 168.52,776.16 170.95,776.06 173.39,775.58 175.82,775.78 178.25,775.74 180.69,775.79 183.12,776.47 185.55,775.91 187.98,776.25 190.42,776.15 192.85,775.92 195.28,776.41 197.72,775.87 200.15,776.33 202.58,775.85 205.01,776.13 207.45,775.94 209.88,775.99 212.31,776.62 214.75,776.47 217.18,776.02 219.61,776.55 222.05,775.94 224.48,776.10 226.91,776.52 229.34,776.33 231.78,775.84 234.21,776.64 236.64,775.94 239.08,775.98 241.51,776.45 243.94,776.05 246.38,776.02 248.81,775.82 251.24,775.83 253.68,776.27 256.11,775.97 258.54,776.29 260.97,776.08 263.41,776.16 265.84,776.61 268.27,776.19 270.71,776.27 273.14,776.53 275.57,775.91 278.00,775.89 280.44,776.57 282.87,776.49 285.30,775.97 287.74,775.92 290.17,776.42 292.60,776.60 295.04,775.93 297.47,776.61 299.90,776.54 302.33,776.29 304.77,776.13 307.20,775.84 309.63,775.78 312.07,776.62 314.50,775.96" fill="none" stroke="#3479b9" stroke-width="1.05" stroke-linejoin="round" stroke-linecap="butt"/>
<polyline points="73.63,700.20 76.07,707.10 78.50,710.10 80.93,710.10 83.37,703.20 85.80,700.20 88.23,693.70 90.66,698.20 93.10,698.20 95.53,696.20 97.96,683.00 100.40,687.30 102.83,683.00 105.26,679.00 107.69,678.40 110.13,656.60 112.56,668.50 114.99,651.40 117.43,649.20 119.86,643.10 122.29,638.70 124.73,640.70 127.16,642.60 129.59,637.80 132.03,645.10 134.46,640.40 136.89,639.00 139.32,632.80 141.76,638.70 144.19,636.80 146.62,637.50 149.06,640.70 151.49,638.70 153.92,635.30 156.36,631.40 158.79,633.40 161.22,629.00 163.65,630.90 166.09,632.80 168.52,630.50 170.95,629.50 173.39,630.90 175.82,632.40 178.25,630.90 180.69,630.20 183.12,631.70 185.55,630.20 187.98,629.50 190.42,629.90 192.85,631.20 195.28,628.50 197.72,629.50 200.15,628.80 202.58,629.48 205.01,630.23 207.45,630.25 209.88,629.78 212.31,629.00 214.75,628.26 217.18,627.27 219.61,627.53 222.05,628.08 224.48,628.03 226.91,627.48 229.34,627.55 231.78,627.91 234.21,628.83 236.64,629.14 239.08,628.86 241.51,629.53 243.94,629.62 246.38,629.54 248.81,629.62 251.24,629.37 253.68,629.24 256.11,629.49 258.54,629.16 260.97,629.19 263.41,629.18 265.84,629.00 268.27,629.21 270.71,629.15 273.14,629.33 275.57,629.07 278.00,629.08 280.44,628.94 282.87,628.98 285.30,628.79 287.74,628.62 290.17,628.99 292.60,628.93 295.04,628.78 297.47,628.66 299.90,628.37 302.33,628.28 304.77,628.26 307.20,628.09 309.63,628.46 312.07,628.19 314.50,628.41" fill="none" stroke="#f27a1e" stroke-width="1.05" stroke-linejoin="round" stroke-linecap="butt"/>
<rect x="61.50" y="620.60" width="265.10" height="163.50" fill="none" stroke="#6a6a6a" stroke-width="1.00"/>
<line x1="71.20" y1="784.10" x2="71.20" y2="786.70" stroke="#4a4a4a" stroke-width="0.80"/>
<text class="tk" x="71.20" y="795.00" font-size="7.55" text-anchor="middle" textLength="4.07" lengthAdjust="spacingAndGlyphs" fill="#262626" xml:space="preserve" style='font-family:"Liberation Sans", sans-serif;'>0</text>
<line x1="119.86" y1="784.10" x2="119.86" y2="786.70" stroke="#4a4a4a" stroke-width="0.80"/>
<text class="tk" x="119.86" y="795.00" font-size="7.55" text-anchor="middle" textLength="8.14" lengthAdjust="spacingAndGlyphs" fill="#262626" xml:space="preserve" style='font-family:"Liberation Sans", sans-serif;'>20</text>
<line x1="168.52" y1="784.10" x2="168.52" y2="786.70" stroke="#4a4a4a" stroke-width="0.80"/>
<text class="tk" x="168.52" y="795.00" font-size="7.55" text-anchor="middle" textLength="8.14" lengthAdjust="spacingAndGlyphs" fill="#262626" xml:space="preserve" style='font-family:"Liberation Sans", sans-serif;'>40</text>
<line x1="217.18" y1="784.10" x2="217.18" y2="786.70" stroke="#4a4a4a" stroke-width="0.80"/>
<text class="tk" x="217.18" y="795.00" font-size="7.55" text-anchor="middle" textLength="8.14" lengthAdjust="spacingAndGlyphs" fill="#262626" xml:space="preserve" style='font-family:"Liberation Sans", sans-serif;'>60</text>
<line x1="265.84" y1="784.10" x2="265.84" y2="786.70" stroke="#4a4a4a" stroke-width="0.80"/>
<text class="tk" x="265.84" y="795.00" font-size="7.55" text-anchor="middle" textLength="8.14" lengthAdjust="spacingAndGlyphs" fill="#262626" xml:space="preserve" style='font-family:"Liberation Sans", sans-serif;'>80</text>
<line x1="314.50" y1="784.10" x2="314.50" y2="786.70" stroke="#4a4a4a" stroke-width="0.80"/>
<text class="tk" x="314.50" y="795.00" font-size="7.55" text-anchor="middle" textLength="12.22" lengthAdjust="spacingAndGlyphs" fill="#262626" xml:space="preserve" style='font-family:"Liberation Sans", sans-serif;'>100</text>
<line x1="58.90" y1="779.40" x2="61.50" y2="779.40" stroke="#4a4a4a" stroke-width="0.80"/>
<text class="tk" x="56.20" y="781.63" font-size="7.55" text-anchor="end" textLength="10.18" lengthAdjust="spacingAndGlyphs" fill="#262626" xml:space="preserve" style='font-family:"Liberation Sans", sans-serif;'>0.0</text>
<line x1="58.90" y1="757.69" x2="61.50" y2="757.69" stroke="#4a4a4a" stroke-width="0.80"/>
<text class="tk" x="56.20" y="759.92" font-size="7.55" text-anchor="end" textLength="10.18" lengthAdjust="spacingAndGlyphs" fill="#262626" xml:space="preserve" style='font-family:"Liberation Sans", sans-serif;'>0.1</text>
<line x1="58.90" y1="735.98" x2="61.50" y2="735.98" stroke="#4a4a4a" stroke-width="0.80"/>
<text class="tk" x="56.20" y="738.21" font-size="7.55" text-anchor="end" textLength="10.18" lengthAdjust="spacingAndGlyphs" fill="#262626" xml:space="preserve" style='font-family:"Liberation Sans", sans-serif;'>0.2</text>
<line x1="58.90" y1="714.27" x2="61.50" y2="714.27" stroke="#4a4a4a" stroke-width="0.80"/>
<text class="tk" x="56.20" y="716.50" font-size="7.55" text-anchor="end" textLength="10.18" lengthAdjust="spacingAndGlyphs" fill="#262626" xml:space="preserve" style='font-family:"Liberation Sans", sans-serif;'>0.3</text>
<line x1="58.90" y1="692.56" x2="61.50" y2="692.56" stroke="#4a4a4a" stroke-width="0.80"/>
<text class="tk" x="56.20" y="694.79" font-size="7.55" text-anchor="end" textLength="10.18" lengthAdjust="spacingAndGlyphs" fill="#262626" xml:space="preserve" style='font-family:"Liberation Sans", sans-serif;'>0.4</text>
<line x1="58.90" y1="670.85" x2="61.50" y2="670.85" stroke="#4a4a4a" stroke-width="0.80"/>
<text class="tk" x="56.20" y="673.08" font-size="7.55" text-anchor="end" textLength="10.18" lengthAdjust="spacingAndGlyphs" fill="#262626" xml:space="preserve" style='font-family:"Liberation Sans", sans-serif;'>0.5</text>
<line x1="58.90" y1="649.14" x2="61.50" y2="649.14" stroke="#4a4a4a" stroke-width="0.80"/>
<text class="tk" x="56.20" y="651.37" font-size="7.55" text-anchor="end" textLength="10.18" lengthAdjust="spacingAndGlyphs" fill="#262626" xml:space="preserve" style='font-family:"Liberation Sans", sans-serif;'>0.6</text>
<line x1="58.90" y1="627.43" x2="61.50" y2="627.43" stroke="#4a4a4a" stroke-width="0.80"/>
<text class="tk" x="56.20" y="629.66" font-size="7.55" text-anchor="end" textLength="10.18" lengthAdjust="spacingAndGlyphs" fill="#262626" xml:space="preserve" style='font-family:"Liberation Sans", sans-serif;'>0.7</text>
<text class="tk" x="194.00" y="804.30" font-size="7.33" text-anchor="middle" textLength="20.39" lengthAdjust="spacingAndGlyphs" fill="#262626" xml:space="preserve" style='font-family:"Liberation Sans", sans-serif;'>Epoch</text>
<text class="tk" transform="translate(42.00 702.80) rotate(-90)" x="0" y="0" font-size="7.15" text-anchor="middle" textLength="14.26" lengthAdjust="spacingAndGlyphs" fill="#262626" xml:space="preserve">Loss</text>
<text x="130.30" y="616.60" font-size="9.13" text-anchor="start" textLength="137.90" lengthAdjust="spacingAndGlyphs" fill="#262626" xml:space="preserve" style='font-family:"Liberation Sans", sans-serif;'>Validation And Train Loss Curve</text>
<rect x="263.40" y="691.00" width="60.00" height="22.40" rx="1.6" fill="#ffffff" fill-opacity="0.85" stroke="#d6d6d6" stroke-width="0.8"/>
<line x1="266.00" y1="696.40" x2="281.00" y2="696.40" stroke="#3479b9" stroke-width="1.1" stroke-opacity="0.95"/>
<text class="tk" x="286.00" y="698.92" font-size="7.89" text-anchor="start" textLength="34.00" lengthAdjust="spacingAndGlyphs" fill="#262626" xml:space="preserve" style='font-family:"Liberation Sans", sans-serif;'>Train Loss</text>
<line x1="266.00" y1="707.00" x2="281.00" y2="707.00" stroke="#f27a1e" stroke-width="1.1" stroke-opacity="0.95"/>
<text class="tk" x="286.00" y="709.52" font-size="7.89" text-anchor="start" textLength="10.36" lengthAdjust="spacingAndGlyphs" fill="#262626" xml:space="preserve" style='font-family:"Liberation Sans", sans-serif;'>Val</text>
<text class="tk" x="303.00" y="709.52" font-size="7.89" text-anchor="start" textLength="15.18" lengthAdjust="spacingAndGlyphs" fill="#262626" xml:space="preserve" style='font-family:"Liberation Sans", sans-serif;'>Loss</text>
<polyline points="380.63,776.10 383.07,775.50 385.50,772.90 387.93,766.00 390.37,752.00 392.80,755.00 395.23,740.20 397.66,726.80 400.10,712.70 402.53,697.00 404.96,682.50 407.40,673.50 409.83,668.50 412.26,663.50 414.69,657.00 417.13,651.80 419.56,648.80 421.99,646.50 424.43,643.50 426.86,640.80 429.29,639.40 431.73,638.00 434.16,636.40 436.59,637.30 439.02,636.20 441.46,635.20 443.89,635.00 446.32,634.60 448.76,634.00 451.19,633.60 453.62,634.30 456.06,633.30 458.49,632.80 460.92,632.80 463.36,632.30 465.79,631.60 468.22,631.10 470.65,631.20 473.09,632.00 475.52,631.00 477.95,630.60 480.39,631.50 482.82,631.80 485.25,630.60 487.68,630.20 490.12,629.80 492.55,629.80 494.98,629.90 497.42,630.00 499.85,630.50 502.28,629.52 504.72,629.44 507.15,630.68 509.58,629.87 512.01,629.30 514.45,629.30 516.88,629.30 519.31,629.30 521.75,629.30 524.18,629.19 526.61,628.71 529.05,628.37 531.48,628.84 533.91,629.30 536.35,629.30 538.78,629.30 541.21,629.30 543.64,629.30 546.08,629.30 548.51,630.48 550.94,631.11 553.38,630.47 555.81,629.83 558.24,629.04 560.67,628.57 563.11,629.84 565.54,628.31 567.97,628.98 570.41,629.65 572.84,629.61 575.27,629.52 577.71,629.42 580.14,629.33 582.57,628.95 585.00,628.48 587.44,628.00 589.87,627.81 592.30,628.13 594.74,628.45 597.17,629.11 599.60,629.73 602.04,629.91 604.47,630.09 606.90,630.26 609.34,629.83 611.77,629.37 614.20,629.96 616.63,629.99 619.07,629.28 621.50,628.56" fill="none" stroke="#3479b9" stroke-width="1.05" stroke-linejoin="round" stroke-linecap="butt"/>
<polyline points="380.63,756.57 383.07,763.92 385.50,763.92 387.93,756.57 390.37,741.89 392.80,756.57 395.23,756.57 397.66,741.89 400.10,741.89 402.53,719.88 404.96,712.53 407.40,705.20 409.83,705.20 412.26,697.85 414.69,697.85 417.13,697.85 419.56,712.53 421.99,705.20 424.43,705.20 426.86,705.20 429.29,705.20 431.73,697.85 434.16,697.85 436.59,705.20 439.02,690.50 441.46,712.53 443.89,705.20 446.32,705.20 448.76,697.85 451.19,705.20 453.62,705.20 456.06,690.50 458.49,697.85 460.92,705.20 463.36,697.85 465.79,697.85 468.22,697.85 470.65,705.20 473.09,690.50 475.52,697.85 477.95,705.20 480.39,705.20 482.82,705.20 485.25,705.20 487.68,705.20 490.12,697.85 492.55,705.20 494.98,697.85 497.42,697.85 499.85,697.85 502.28,697.85 504.72,697.85 507.15,697.85 509.58,697.85 512.01,697.85 514.45,697.85 516.88,697.85 519.31,697.85 521.75,697.85 524.18,697.85 526.61,697.85 529.05,697.85 531.48,697.85 533.91,697.85 536.35,697.85 538.78,697.85 541.21,697.85 543.64,697.85 546.08,697.85 548.51,697.85 550.94,705.20 553.38,705.20 555.81,705.20 558.24,705.20 560.67,705.20 563.11,697.85 565.54,697.85 567.97,697.85 570.41,697.85 572.84,697.85 575.27,697.85 577.71,697.85 580.14,697.85 582.57,697.85 585.00,697.85 587.44,697.85 589.87,697.85 592.30,697.85 594.74,697.85 597.17,697.85 599.60,697.85 602.04,697.85 604.47,697.85 606.90,697.85 609.34,697.85 611.77,697.85 614.20,697.85 616.63,697.85 619.07,697.85 621.50,697.85" fill="none" stroke="#f27a1e" stroke-width="1.05" stroke-linejoin="round" stroke-linecap="butt"/>
<rect x="368.80" y="620.40" width="264.80" height="163.90" fill="none" stroke="#6a6a6a" stroke-width="1.00"/>
<line x1="378.20" y1="784.30" x2="378.20" y2="786.90" stroke="#4a4a4a" stroke-width="0.80"/>
<text class="tk" x="378.20" y="795.00" font-size="7.67" text-anchor="middle" textLength="4.14" lengthAdjust="spacingAndGlyphs" fill="#262626" xml:space="preserve" style='font-family:"Liberation Sans", sans-serif;'>0</text>
<line x1="426.86" y1="784.30" x2="426.86" y2="786.90" stroke="#4a4a4a" stroke-width="0.80"/>
<text class="tk" x="426.86" y="795.00" font-size="7.67" text-anchor="middle" textLength="8.27" lengthAdjust="spacingAndGlyphs" fill="#262626" xml:space="preserve" style='font-family:"Liberation Sans", sans-serif;'>20</text>
<line x1="475.52" y1="784.30" x2="475.52" y2="786.90" stroke="#4a4a4a" stroke-width="0.80"/>
<text class="tk" x="475.52" y="795.00" font-size="7.67" text-anchor="middle" textLength="8.27" lengthAdjust="spacingAndGlyphs" fill="#262626" xml:space="preserve" style='font-family:"Liberation Sans", sans-serif;'>40</text>
<line x1="524.18" y1="784.30" x2="524.18" y2="786.90" stroke="#4a4a4a" stroke-width="0.80"/>
<text class="tk" x="524.18" y="795.00" font-size="7.67" text-anchor="middle" textLength="8.27" lengthAdjust="spacingAndGlyphs" fill="#262626" xml:space="preserve" style='font-family:"Liberation Sans", sans-serif;'>60</text>
<line x1="572.84" y1="784.30" x2="572.84" y2="786.90" stroke="#4a4a4a" stroke-width="0.80"/>
<text class="tk" x="572.84" y="795.00" font-size="7.67" text-anchor="middle" textLength="8.27" lengthAdjust="spacingAndGlyphs" fill="#262626" xml:space="preserve" style='font-family:"Liberation Sans", sans-serif;'>80</text>
<line x1="621.50" y1="784.30" x2="621.50" y2="786.90" stroke="#4a4a4a" stroke-width="0.80"/>
<text class="tk" x="621.50" y="795.00" font-size="7.67" text-anchor="middle" textLength="12.41" lengthAdjust="spacingAndGlyphs" fill="#262626" xml:space="preserve" style='font-family:"Liberation Sans", sans-serif;'>100</text>
<line x1="366.20" y1="778.60" x2="368.80" y2="778.60" stroke="#4a4a4a" stroke-width="0.80"/>
<text class="tk" x="363.50" y="780.87" font-size="7.67" text-anchor="end" textLength="4.14" lengthAdjust="spacingAndGlyphs" fill="#262626" xml:space="preserve" style='font-family:"Liberation Sans", sans-serif;'>0</text>
<line x1="366.20" y1="746.30" x2="368.80" y2="746.30" stroke="#4a4a4a" stroke-width="0.80"/>
<text class="tk" x="363.50" y="748.57" font-size="7.67" text-anchor="end" textLength="8.27" lengthAdjust="spacingAndGlyphs" fill="#262626" xml:space="preserve" style='font-family:"Liberation Sans", sans-serif;'>20</text>
<line x1="366.20" y1="714.00" x2="368.80" y2="714.00" stroke="#4a4a4a" stroke-width="0.80"/>
<text class="tk" x="363.50" y="716.27" font-size="7.67" text-anchor="end" textLength="8.27" lengthAdjust="spacingAndGlyphs" fill="#262626" xml:space="preserve" style='font-family:"Liberation Sans", sans-serif;'>40</text>
<line x1="366.20" y1="681.70" x2="368.80" y2="681.70" stroke="#4a4a4a" stroke-width="0.80"/>
<text class="tk" x="363.50" y="683.97" font-size="7.67" text-anchor="end" textLength="8.27" lengthAdjust="spacingAndGlyphs" fill="#262626" xml:space="preserve" style='font-family:"Liberation Sans", sans-serif;'>60</text>
<line x1="366.20" y1="649.40" x2="368.80" y2="649.40" stroke="#4a4a4a" stroke-width="0.80"/>
<text class="tk" x="363.50" y="651.67" font-size="7.67" text-anchor="end" textLength="8.27" lengthAdjust="spacingAndGlyphs" fill="#262626" xml:space="preserve" style='font-family:"Liberation Sans", sans-serif;'>80</text>
<text class="tk" x="501.50" y="804.30" font-size="7.33" text-anchor="middle" textLength="20.39" lengthAdjust="spacingAndGlyphs" fill="#262626" xml:space="preserve" style='font-family:"Liberation Sans", sans-serif;'>Epoch</text>
<text class="tk" transform="translate(349.80 702.70) rotate(-90)" x="0" y="0" font-size="7.59" text-anchor="middle" textLength="45.64" lengthAdjust="spacingAndGlyphs" fill="#262626" xml:space="preserve">Accuracy (%)</text>
<text x="428.00" y="617.00" font-size="8.98" text-anchor="start" textLength="156.00" lengthAdjust="spacingAndGlyphs" fill="#262626" xml:space="preserve" style='font-family:"Liberation Sans", sans-serif;'>Validation And Train Accuracy Curve</text>
<rect x="573.60" y="757.60" width="56.00" height="22.80" rx="1.6" fill="#ffffff" fill-opacity="0.85" stroke="#d6d6d6" stroke-width="0.8"/>
<line x1="576.00" y1="763.00" x2="590.60" y2="763.00" stroke="#3479b9" stroke-width="1.1" stroke-opacity="0.95"/>
<text class="tk" x="595.60" y="765.52" font-size="7.87" text-anchor="start" textLength="31.40" lengthAdjust="spacingAndGlyphs" fill="#262626" xml:space="preserve" style='font-family:"Liberation Sans", sans-serif;'>Train Acc</text>
<line x1="576.00" y1="773.40" x2="590.60" y2="773.40" stroke="#f27a1e" stroke-width="1.1" stroke-opacity="0.95"/>
<text class="tk" x="595.60" y="775.92" font-size="7.87" text-anchor="start" textLength="10.33" lengthAdjust="spacingAndGlyphs" fill="#262626" xml:space="preserve" style='font-family:"Liberation Sans", sans-serif;'>Val</text>
<text class="tk" x="613.00" y="775.92" font-size="7.87" text-anchor="start" textLength="12.19" lengthAdjust="spacingAndGlyphs" fill="#262626" xml:space="preserve" style='font-family:"Liberation Sans", sans-serif;'>Acc</text>
<text x="0.60" y="199.40" font-size="14.60" text-anchor="start" textLength="11.60" lengthAdjust="spacingAndGlyphs" fill="#4a4a4a" xml:space="preserve" style='font-family:"Liberation Serif", serif;stroke:none'>c)</text>
<text x="2.60" y="606.80" font-size="14.60" text-anchor="start" textLength="12.60" lengthAdjust="spacingAndGlyphs" fill="#4a4a4a" xml:space="preserve" style='font-family:"Liberation Serif", serif;stroke:none'>d)</text>
</svg>
</body></html>
